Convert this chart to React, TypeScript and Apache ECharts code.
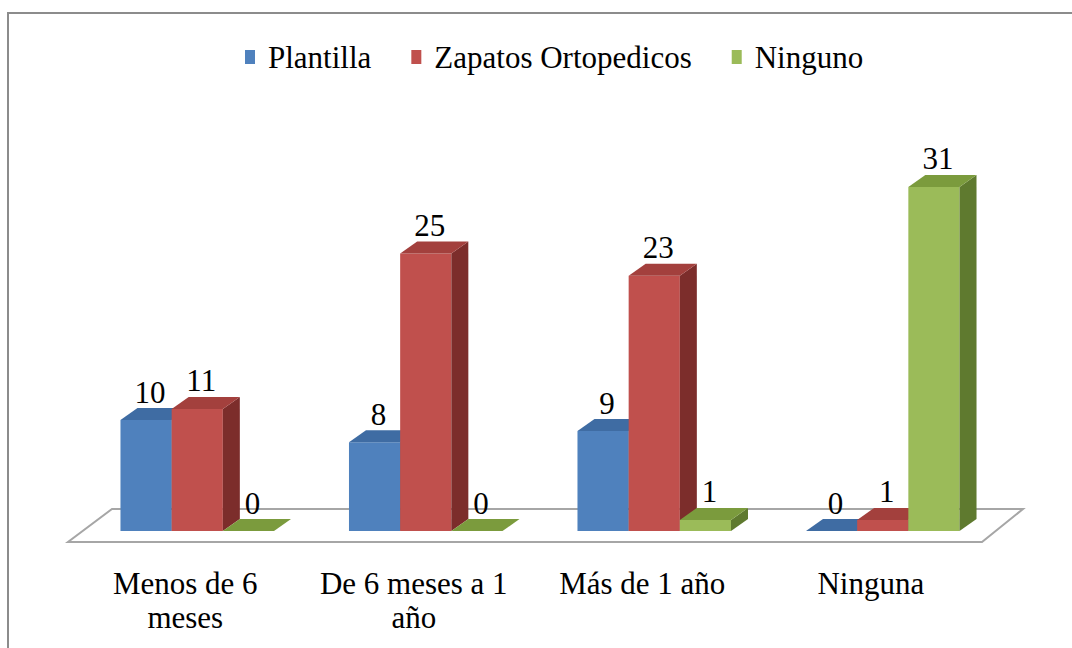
import React, { useEffect, useRef } from "react";
import * as echarts from "echarts";

const categories = ["Menos de 6\nmeses", "De 6 meses a 1\naño", "Más de 1 año", "Ninguna"];
const seriesNames = ["Plantilla", "Zapatos Ortopedicos", "Ninguno"];
const plantilla = [10, 8, 9, 0];
const zapatos = [11, 25, 23, 1];
const ninguno = [0, 0, 1, 31];

const FONT = "Liberation Serif";
const palette = [
  { front: "#4F81BD", top: "#3F6CA3", side: "#2F5583" },
  { front: "#C0504D", top: "#A3403D", side: "#7C2D2B" },
  { front: "#9BBB59", top: "#7B9B3D", side: "#5F7A2F" },
];

function makeBarRender(idx: number) {
  const c = palette[idx];
  return (params: any, api: any) => {
    const cat = api.value(0);
    const val = api.value(1);
    const top = api.coord([cat, val]);
    const base = api.coord([cat, 0]);
    const band = api.size([1, 0])[0];
    const bw = band * 0.224;
    const x = top[0] - 1.5 * bw + idx * bw;
    const yTop = top[1];
    const y0 = base[1];
    const dx = 17;
    const dy = 12;
    const children: any[] = [];
    if (y0 - yTop > 0.5) {
      children.push({
        type: "rect",
        shape: { x, y: yTop, width: bw, height: y0 - yTop },
        style: { fill: c.front },
      });
      children.push({
        type: "polygon",
        shape: { points: [[x + bw, yTop], [x + bw + dx, yTop - dy], [x + bw + dx, y0 - dy], [x + bw, y0]] },
        style: { fill: c.side },
      });
    }
    children.push({
      type: "polygon",
      shape: { points: [[x, yTop], [x + bw, yTop], [x + bw + dx, yTop - dy], [x + dx, yTop - dy]] },
      style: { fill: c.top },
    });
    children.push({
      type: "text",
      style: {
        text: String(val),
        x: x + bw / 2 + 4,
        y: yTop - dy - 16,
        align: "center",
        verticalAlign: "middle",
        fontSize: 31,
        fontFamily: FONT,
        fill: "#000",
      },
    });
    return { type: "group", children };
  };
}

export default function App() {
  const ref = useRef<HTMLDivElement>(null);
  useEffect(() => {
    if (!ref.current) return;
    const chart = echarts.init(ref.current, null, { renderer: "svg" });
    const allSeries = [plantilla, zapatos, ninguno];
    const option: any = {
      animation: false,
      backgroundColor: "#fff",
      graphic: [
        {
          type: "rect",
          shape: { x: 8, y: 13, width: 1200, height: 800 },
          style: { fill: "none", stroke: "#8c8c8c", lineWidth: 2 },
          silent: true,
        },
      ],
      legend: {
        data: seriesNames,
        left: 240,
        top: 36,
        icon: "rect",
        itemWidth: 10,
        itemHeight: 14,
        itemGap: 40,
        textStyle: { fontSize: 31, fontFamily: FONT, color: "#000", lineHeight: 32, padding: [0, 0, 0, 8] },
      },
      grid: { left: 83, right: 75, top: 142.5, bottom: 117, containLabel: false, outerBoundsMode: "none" },
      xAxis: {
        type: "category",
        data: categories,
        axisLine: { show: false },
        axisTick: { show: false },
        axisLabel: {
          fontSize: 31,
          fontFamily: FONT,
          color: "#000",
          lineHeight: 34,
          margin: 35,
          padding: [0, 24, 0, 0],
          interval: 0,
        },
      },
      yAxis: { type: "value", min: 0, max: 35, show: false, splitLine: { show: false } },
      series: [
        {
          name: "floor",
          type: "custom",
          silent: true,
          data: [[0, 0]],
          renderItem: (params: any) => {
            const cs = params.coordSys;
            const x0 = cs.x;
            const x1 = cs.x + cs.width;
            const y0 = cs.y + cs.height;
            return {
              type: "polygon",
              shape: { points: [[x0 - 15, y0 + 11], [x1 - 15, y0 + 11], [x1 + 26, y0 - 22], [x0 + 29, y0 - 22]] },
              style: { fill: "#fff", stroke: "#a6a6a6", lineWidth: 2 },
            };
          },
        },
        ...seriesNames.map((name, i) => ({
          name,
          type: "custom",
          itemStyle: { color: palette[i].front },
          data: allSeries[i].map((v, j) => [j, v]),
          encode: { x: 0, y: 1 },
          renderItem: makeBarRender(i),
        })),
      ],
    };
    chart.setOption(option);
    return () => chart.dispose();
  }, []);
  return <div ref={ref} style={{ position: "absolute", left: 0, top: 0, width: 1072, height: 648 }} />;
}
